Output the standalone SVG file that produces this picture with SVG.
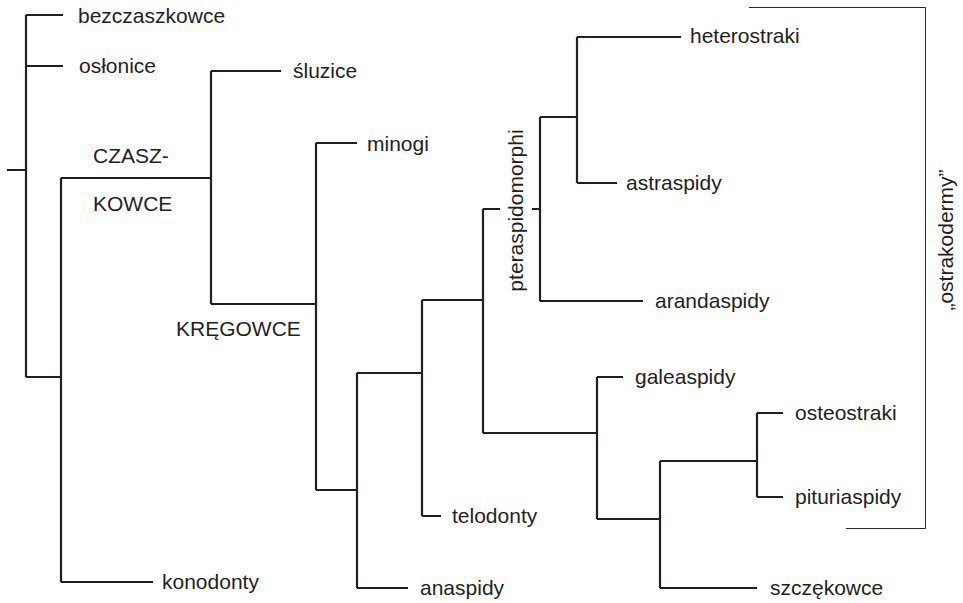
<svg xmlns="http://www.w3.org/2000/svg" width="963" height="603" viewBox="0 0 963 603">
<style>
.t{font-family:"Liberation Sans",Arial,sans-serif;font-size:21px;fill:#231f20}
.c{fill:none;stroke:#231f20;stroke-width:2.2}
.b{fill:none;stroke:#2b2b2b;stroke-width:1}
</style>
<rect width="963" height="603" fill="#fff"/>
<g id="connectors">
<path class="c" d="M7,170H26M26,15V377M26,15H63M26,66H63M26,377H61"/>
<path class="c" d="M61,178V582M61,178H211M61,582H153"/>
<path class="c" d="M211,71V304M211,71H281M211,304H316"/>
<path class="c" d="M316,143V490M316,143H357M316,490H357"/>
<path class="c" d="M357,373V588M357,588H408M357,373H422"/>
<path class="c" d="M422,300V516M422,516H441M422,300H483"/>
<path class="c" d="M483,209V433M483,209H500M532,209H540M483,433H597"/>
<path class="c" d="M540,117V301M540,117H577M540,301H643"/>
<path class="c" d="M577,37V183M577,37H681M577,183H617"/>
<path class="c" d="M597,377V519M597,377H623M597,519H660"/>
<path class="c" d="M660,461V588M660,588H757M660,461H757"/>
<path class="c" d="M757,413V497M757,413H783M757,497H783"/>
<path class="b" d="M749,7.5H925.5V528.5H846"/>
</g>
<g id="bezczaszkowce"><text class="t" x="78" y="23">bezczaszkowce</text></g>
<g id="oslonice"><text class="t" x="79" y="73">osłonice</text></g>
<g id="czaszkowce"><text class="t" x="93" y="163">CZASZ-</text><text class="t" x="93" y="211">KOWCE</text></g>
<g id="konodonty"><text class="t" x="162" y="589">konodonty</text></g>
<g id="sluzice"><text class="t" x="293" y="78">śluzice</text></g>
<g id="kregowce"><text class="t" x="176" y="336">KRĘGOWCE</text></g>
<g id="minogi"><text class="t" x="367" y="151">minogi</text></g>
<g id="anaspidy"><text class="t" x="420" y="595">anaspidy</text></g>
<g id="telodonty"><text class="t" x="452" y="523">telodonty</text></g>
<g id="pteraspidomorphi"><text class="t" transform="translate(523,210.5) rotate(-90)" text-anchor="middle">pteraspidomorphi</text></g>
<g id="heterostraki"><text class="t" x="690" y="43">heterostraki</text></g>
<g id="astraspidy"><text class="t" x="626" y="190">astraspidy</text></g>
<g id="arandaspidy"><text class="t" x="655" y="308">arandaspidy</text></g>
<g id="galeaspidy"><text class="t" x="635" y="384">galeaspidy</text></g>
<g id="osteostraki"><text class="t" x="795" y="420">osteostraki</text></g>
<g id="pituriaspidy"><text class="t" x="795" y="504">pituriaspidy</text></g>
<g id="szczekowce"><text class="t" x="770" y="595">szczękowce</text></g>
<g id="ostrakodermy"><text class="t" transform="translate(953,240) rotate(-90)" text-anchor="middle">„ostrakodermy”</text></g>
</svg>
